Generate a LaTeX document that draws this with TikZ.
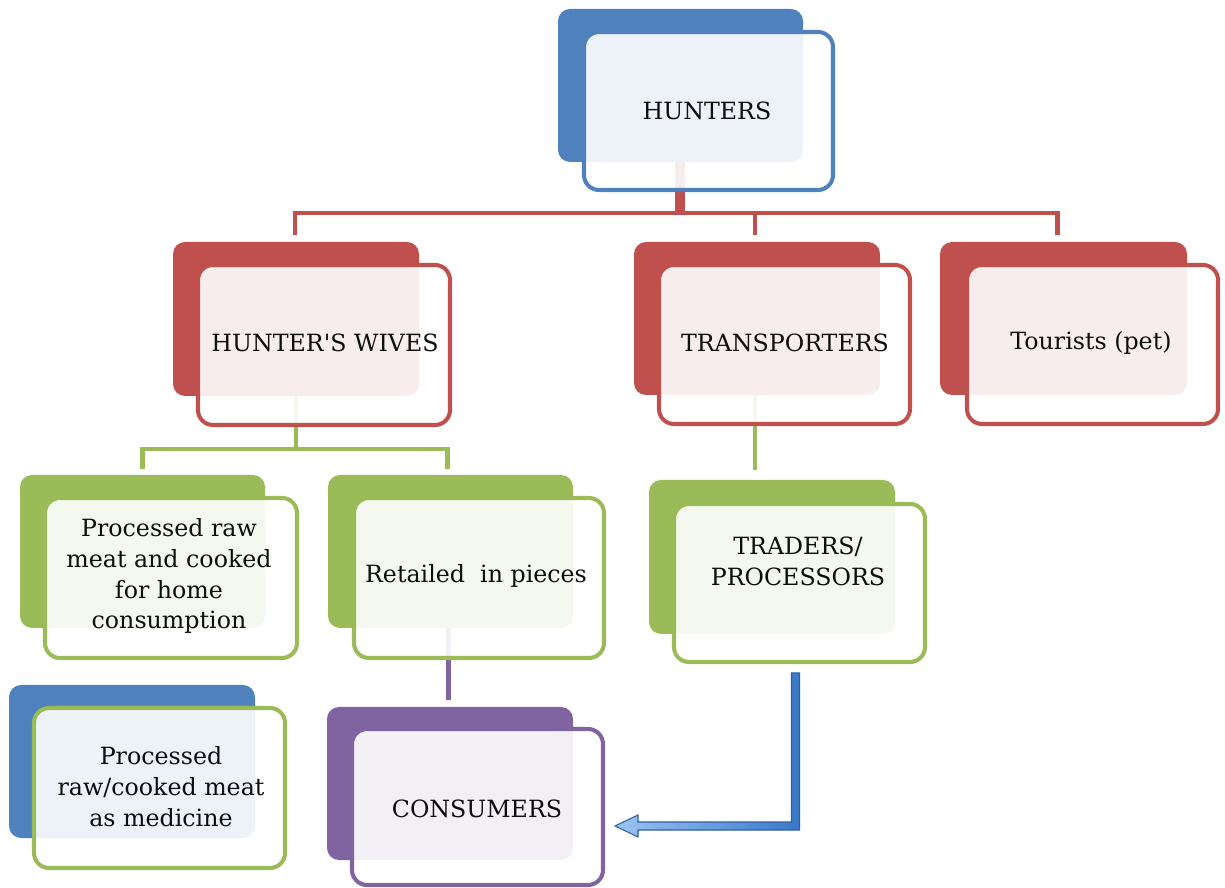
\documentclass[tikz,border=0pt]{standalone}
\usepackage{fontspec}
\setmainfont{DejaVu Serif}
\usetikzlibrary{fit,calc}
\definecolor{cblue}{HTML}{4F81BD}
\definecolor{cred}{HTML}{C0504D}
\definecolor{cgreen}{HTML}{9BBB59}
\definecolor{cpurple}{HTML}{8064A2}
\definecolor{arrdark}{HTML}{3A78C8}
\definecolor{arrlight}{HTML}{9CC3F5}
\definecolor{txt}{HTML}{0D0D0D}
\begin{document}
\begin{tikzpicture}[x=0.02cm,y=-0.02cm,
  backbox/.style={draw=none, fill=#1, rounded corners=0.24cm, inner sep=0pt, outer sep=0pt},
  frontbox/.style={draw=#1, line width=2.3pt, fill=white, fill opacity=0.9, rounded corners=0.3cm, inner sep=0pt, outer sep=0pt},
  lbl/.style={text=txt, align=center, font=\fontsize{13.5}{17.6}\selectfont, inner sep=0pt},
  conn/.style={draw=#1, line width=2.6pt}]
\useasboundingbox (0,0) rectangle (1225,888);

% ---- box geometry (invisible named nodes via fit) ----
\path
 node[fit={(558,9) (803,162)}, inner sep=0pt, outer sep=0pt] (hunB) {}
 node[fit={(173,242) (419,396)}, inner sep=0pt, outer sep=0pt] (hwB) {}
 node[fit={(634,242) (880,395)}, inner sep=0pt, outer sep=0pt] (trB) {}
 node[fit={(940,242) (1187,395)}, inner sep=0pt, outer sep=0pt] (touB) {}
 node[fit={(20,475) (265,628)}, inner sep=0pt, outer sep=0pt] (prmB) {}
 node[fit={(328,475) (573,628)}, inner sep=0pt, outer sep=0pt] (retB) {}
 node[fit={(649,480) (895,634)}, inner sep=0pt, outer sep=0pt] (trdB) {}
 node[fit={(9,685) (255,838)}, inner sep=0pt, outer sep=0pt] (medB) {}
 node[fit={(327,707) (573,860)}, inner sep=0pt, outer sep=0pt] (conB) {};

\coordinate (rbus) at (0,213);
\coordinate (gbus) at (0,449);

% ---- connectors (behind the boxes) ----
\draw[conn=cred] ($(hunB.center)+(-3,0)$) -- ($(hunB.center |- rbus)+(-3,0)$) -| ($(hwB.north)+(-1,-7)$);
\draw[conn=cred] ($(hunB.center)+(2,0)$) -- ($(hunB.center |- rbus)+(2,0)$) -| ($(trB.north)+(-2,-7)$);
\draw[conn=cred] ($(hunB.center)+(2,0)$) -- ($(hunB.center |- rbus)+(2,0)$) -| ($(touB.north)+(-6,-7)$);
\draw[conn=cgreen] (hwB.center) -- (hwB.center |- gbus) -| ($(prmB.north)+(0,-6)$);
\draw[conn=cgreen] (hwB.center) -- (hwB.center |- gbus) -| ($(retB.north)+(-3,-6)$);
\draw[conn=cgreen] ($(trB.center)+(-2,0)$) -- ($(trB.center |- trdB.north)+(-2,-10)$);
\draw[conn=cpurple] ($(retB.center)+(-2,0)$) -- ($(retB.center |- conB.north)+(-2,-7)$);

% ---- boxes ----
\node[backbox=cblue, fit={(558,9) (803,162)}] (hunBack) {};
\node[frontbox=cblue, fit={(584,32) (833,190)}] (hunF) {};
\node[backbox=cred, fit={(173,242) (419,396)}] (hwBack) {};
\node[frontbox=cred, fit={(198,265) (450,425)}] (hwF) {};
\node[backbox=cred, fit={(634,242) (880,395)}] (trBack) {};
\node[frontbox=cred, fit={(659,265) (910,424)}] (trF) {};
\node[backbox=cred, fit={(940,242) (1187,395)}] (touBack) {};
\node[frontbox=cred, fit={(967,265) (1218,424)}] (touF) {};
\node[backbox=cgreen, fit={(20,475) (265,628)}] (prmBack) {};
\node[frontbox=cgreen, fit={(45,498) (297,658)}] (prmF) {};
\node[backbox=cgreen, fit={(328,475) (573,628)}] (retBack) {};
\node[frontbox=cgreen, fit={(354,498) (604,658)}] (retF) {};
\node[backbox=cgreen, fit={(649,480) (895,634)}] (trdBack) {};
\node[frontbox=cgreen, fit={(674,504) (925,662)}] (trdF) {};
\node[backbox=cblue, fit={(9,685) (255,838)}] (medBack) {};
\node[frontbox=cgreen, fit={(34,708) (285,868)}] (medF) {};
\node[backbox=cpurple, fit={(327,707) (573,860)}] (conBack) {};
\node[frontbox=cpurple, fit={(352,729) (603,885)}] (conF) {};

% ---- labels ----
\node[lbl] (hunT) at (707,111) {HUNTERS};
\node[lbl] (hwT) at (325,343) {HUNTER\textquotesingle S WIVES};
\node[lbl] (trT) at (785,343) {TRANSPORTERS};
\node[lbl] (touT) at (1091,343) {Tourists (pet)};
\node[lbl] (prmT) at (169,576) {Processed raw\\meat and cooked\\for home\\consumption};
\node[lbl] (retT) at (476,576) {Retailed\ \ in pieces};
\node[lbl] (trdT) at (798,561) {TRADERS/\\PROCESSORS};
\node[lbl] (medT) at (161,787) {Processed\\raw/cooked meat\\as medicine};
\node[lbl] (conT) at (477,809) {CONSUMERS};

% ---- blue arrow ----
\coordinate (as) at ($(trdF.south)+(-4,11)$);
\coordinate (at) at ($(conF.east)+(12,19)$);
\shadedraw[left color=arrlight, right color=arrdark, draw=arrdark!80!black, line width=0.6pt]
  ($(as)+(4,0)$) -- ($(as |- at)+(4,4)$) -- ($(at)+(23,4)$) -- ($(at)+(23,11)$) -- (at)
  -- ($(at)+(23,-11)$) -- ($(at)+(23,-4)$) -- ($(as |- at)+(-4,-4)$) -- ($(as)+(-4,0)$) -- cycle;
\end{tikzpicture}
\end{document}
